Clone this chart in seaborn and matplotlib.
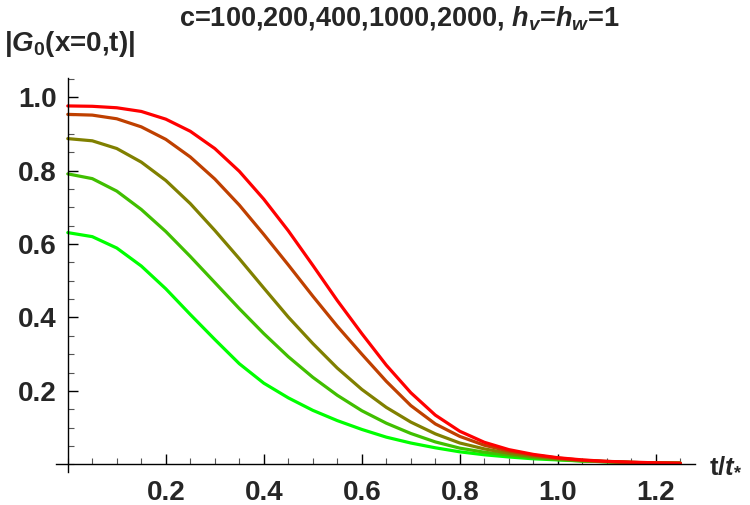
import numpy as np
import pandas as pd
import matplotlib
matplotlib.use("Agg")
import matplotlib.pyplot as plt
from matplotlib.ticker import MultipleLocator
import seaborn as sns

# values
t = [0.0, 0.05, 0.1, 0.15, 0.2, 0.25, 0.3, 0.35, 0.4, 0.45, 0.5, 0.55, 0.6,
     0.65, 0.7, 0.75, 0.8, 0.85, 0.9, 0.95, 1.0, 1.05, 1.1, 1.15, 1.2, 1.25]

g_c100 = [0.631, 0.620, 0.589, 0.540, 0.478, 0.408, 0.340, 0.274, 0.221, 0.181,
          0.147, 0.119, 0.095, 0.074, 0.058, 0.045, 0.034, 0.026, 0.020, 0.015,
          0.012, 0.009, 0.007, 0.005, 0.004, 0.003]
g_c200 = [0.791, 0.778, 0.744, 0.694, 0.634, 0.566, 0.495, 0.424, 0.356, 0.293,
          0.237, 0.188, 0.146, 0.112, 0.084, 0.061, 0.044, 0.033, 0.025, 0.018,
          0.013, 0.009, 0.007, 0.005, 0.004, 0.003]
g_c400 = [0.887, 0.881, 0.860, 0.823, 0.773, 0.710, 0.637, 0.560, 0.480, 0.401,
          0.329, 0.262, 0.204, 0.155, 0.115, 0.083, 0.058, 0.042, 0.030, 0.021,
          0.015, 0.010, 0.007, 0.005, 0.004, 0.003]
g_c1000 = [0.953, 0.951, 0.941, 0.919, 0.885, 0.837, 0.777, 0.706, 0.626, 0.543,
           0.458, 0.376, 0.300, 0.226, 0.160, 0.110, 0.076, 0.052, 0.036, 0.025,
           0.017, 0.011, 0.008, 0.005, 0.004, 0.003]
g_c2000 = [0.976, 0.975, 0.971, 0.961, 0.940, 0.907, 0.860, 0.798, 0.722, 0.636,
           0.542, 0.446, 0.356, 0.270, 0.195, 0.134, 0.090, 0.060, 0.040, 0.027,
           0.018, 0.012, 0.008, 0.006, 0.004, 0.003]

c_values = ["100", "200", "400", "1000", "2000"]
colors = ["#00ff00", "#40bf00", "#808000", "#bf4000", "#ff0000"]

df = pd.concat([
    pd.DataFrame({"t": t, "G": g, "c": c})
    for c, g in zip(c_values, [g_c100, g_c200, g_c400, g_c1000, g_c2000])
])

sns.set_theme(style="white")
plt.rcParams["font.family"] = ["Liberation Sans", "DejaVu Sans"]
plt.rcParams["font.weight"] = "bold"
plt.rcParams["mathtext.fontset"] = "custom"
plt.rcParams["mathtext.rm"] = "Liberation Sans:bold"
plt.rcParams["mathtext.it"] = "Liberation Sans:bold:italic"
plt.rcParams["mathtext.bf"] = "Liberation Sans:bold"

fig = plt.figure(figsize=(7.5, 5.05), dpi=100)
ax = fig.add_axes([0.0747, 0.0653, 0.852, 0.7802])

sns.lineplot(data=df, x="t", y="G", hue="c", palette=colors, linewidth=2.3,
             legend=False, ax=ax)

ax.set_xlim(-0.024, 1.28)
ax.set_ylim(-0.021, 1.052)
ax.spines["left"].set_position(("data", 0))
ax.spines["bottom"].set_position(("data", 0))
ax.spines["top"].set_visible(False)
ax.spines["right"].set_visible(False)
for s in ["left", "bottom"]:
    ax.spines[s].set_color("black")
    ax.spines[s].set_linewidth(1.0)

ax.set_xticks([0.2, 0.4, 0.6, 0.8, 1.0, 1.2])
ax.set_yticks([0.2, 0.4, 0.6, 0.8, 1.0])
ax.xaxis.set_minor_locator(MultipleLocator(0.05))
ax.yaxis.set_minor_locator(MultipleLocator(0.05))
ax.tick_params(which="major", direction="in", length=7, width=1.0,
               color="black", labelsize=20, bottom=True, left=True)
ax.tick_params(which="minor", direction="in", length=4, width=0.8,
               color="#555555", bottom=True, left=True)
ax.tick_params(axis="x", which="major", pad=11)
ax.tick_params(axis="y", which="major", pad=8)
for lab in ax.get_xticklabels() + ax.get_yticklabels():
    lab.set_fontweight("bold")
ax.set_xlabel("")
ax.set_ylabel("")

fig.text(0.532, 0.965, r"c=100,200,400,1000,2000, $h_v$=$h_w$=1",
         ha="center", va="center", fontsize=19.5, fontweight="bold")
fig.text(0.005, 0.912, r"|$G_\mathrm{0}$(x=0,t)|",
         ha="left", va="center", fontsize=20, fontweight="bold")
ax.annotate(r"t/$t_{\!*}$", xy=(1.0, 0.0), xycoords=ax.get_yaxis_transform(),
            xytext=(10, 0), textcoords="offset points",
            ha="left", va="center", fontsize=18.5, fontweight="bold")

fig.savefig("out.png", dpi=100)
